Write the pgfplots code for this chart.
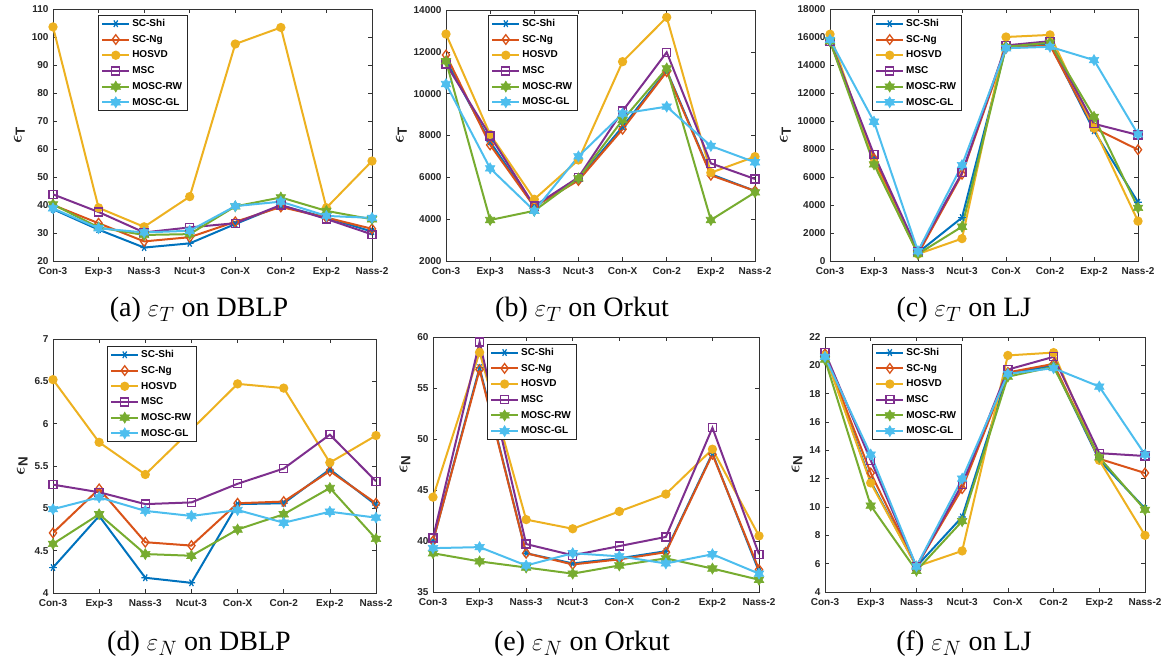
\documentclass[border=0pt]{standalone}
\usepackage{fontspec}
\setmainfont{Liberation Sans}
\newfontfamily\capfont{Liberation Serif}
\usepackage{amsmath}
\usepackage{pgfplots}
\pgfplotsset{compat=1.18}
\definecolor{c1}{rgb}{0,0.447,0.741}
\definecolor{c2}{rgb}{0.85,0.325,0.098}
\definecolor{c3}{rgb}{0.929,0.694,0.125}
\definecolor{c4}{rgb}{0.494,0.184,0.556}
\definecolor{c5}{rgb}{0.466,0.674,0.188}
\definecolor{c6}{rgb}{0.301,0.745,0.933}
\pgfdeclareplotmark{hexagram}{%
\pgfpathmoveto{\pgfpointpolar{90}{\pgfplotmarksize}}%
\pgfpathlineto{\pgfpointpolar{120}{0.577\pgfplotmarksize}}%
\pgfpathlineto{\pgfpointpolar{150}{\pgfplotmarksize}}%
\pgfpathlineto{\pgfpointpolar{180}{0.577\pgfplotmarksize}}%
\pgfpathlineto{\pgfpointpolar{210}{\pgfplotmarksize}}%
\pgfpathlineto{\pgfpointpolar{240}{0.577\pgfplotmarksize}}%
\pgfpathlineto{\pgfpointpolar{270}{\pgfplotmarksize}}%
\pgfpathlineto{\pgfpointpolar{300}{0.577\pgfplotmarksize}}%
\pgfpathlineto{\pgfpointpolar{330}{\pgfplotmarksize}}%
\pgfpathlineto{\pgfpointpolar{0}{0.577\pgfplotmarksize}}%
\pgfpathlineto{\pgfpointpolar{30}{\pgfplotmarksize}}%
\pgfpathlineto{\pgfpointpolar{60}{0.577\pgfplotmarksize}}%
\pgfpathclose\pgfusepathqfillstroke}
\pgfplotsset{
 base/.style={scale only axis, xmin=0, xmax=7, xtick={0,...,7},
  xticklabels={Con-3,Exp-3,Nass-3,Ncut-3,Con-X,Con-2,Exp-2,Nass-2},
  tick align=inside, major tick length=4pt,
  tick style={black!80, line width=0.5pt},
  axis line style={black!80, line width=0.5pt},
  tick label style={font=\fontsize{10}{12}\selectfont\bfseries, text=black!85},
  xticklabel style={yshift=-2.5pt},
  yticklabel style={xshift=-1pt},
  /pgf/number format/assume math mode=true, /pgf/number format/1000 sep={},
  scaled y ticks=false,
  ylabel style={font=\fontsize{19}{20}\selectfont\bfseries, text=black!85},
  legend cell align=left,
  legend style={font=\fontsize{10}{11}\selectfont\bfseries, anchor=north west,
    draw=black!85, line width=0.6pt, inner xsep=3pt, inner ysep=2pt, row sep=3.2pt},
  legend image code/.code={\draw[mark repeat=2,mark phase=2] plot coordinates {(0pt,0pt) (13.5pt,0pt) (27pt,0pt)};},
 },
 shi/.style={color=c1, line width=2pt, mark=asterisk, mark size=3.8pt, mark options={rotate=90, line width=1.2pt}},
 ng/.style={color=c2, line width=2pt, mark=diamond, mark size=4.8pt, mark options={fill=white, line width=1.3pt}},
 hos/.style={color=c3, line width=2pt, mark=*, mark size=3.6pt},
 msc/.style={color=c4, line width=2pt, mark=square, mark size=4pt, mark options={fill=white, line width=1.3pt}},
 rw/.style={color=c5, line width=2pt, mark=hexagram, mark size=5.5pt, mark options={fill=c5, line width=0.6pt}},
 gl/.style={color=c6, line width=2pt, mark=hexagram, mark size=5.5pt, mark options={fill=c6, line width=0.6pt}},
}
\begin{document}
\begin{tikzpicture}
\useasboundingbox (0pt,0pt) rectangle (1164pt,-664pt);
% (a)
\begin{axis}[base, at={(53pt,-9pt)}, anchor=north west, width=319pt, height=252pt,
  ymin=20, ymax=110, ytick={20,30,...,110}, ylabel={$\boldsymbol{\epsilon}_{\textbf{T}}$},
  legend style={at={(0.141,0.976)}}]
\addplot[shi] coordinates {(0,38.5)(1,31.2)(2,24.8)(3,26.3)(4,33.2)(5,39.8)(6,35.5)(7,30.5)};
\addplot[ng] coordinates {(0,40)(1,33.5)(2,27)(3,28.5)(4,34)(5,39.3)(6,35.5)(7,31.5)};
\addplot[hos] coordinates {(0,103.6)(1,39)(2,32.2)(3,43)(4,97.5)(5,103.4)(6,39)(7,55.7)};
\addplot[msc] coordinates {(0,43.8)(1,37.5)(2,30.2)(3,32)(4,33.5)(5,40)(6,35)(7,29.5)};
\addplot[rw] coordinates {(0,40.2)(1,32)(2,29.3)(3,29.6)(4,39.5)(5,42.7)(6,37.9)(7,34.9)};
\addplot[gl] coordinates {(0,38.8)(1,31.7)(2,30.2)(3,30.8)(4,39.6)(5,41.2)(6,36.1)(7,35.4)};
\legend{SC-Shi,SC-Ng,HOSVD,MSC,MOSC-RW,MOSC-GL}
\end{axis}
% (b)
\begin{axis}[base, at={(446pt,-10pt)}, anchor=north west, width=309pt, height=251pt,
  ymin=2000, ymax=14000, ytick={2000,4000,...,14000}, ylabel={$\boldsymbol{\epsilon}_{\textbf{T}}$},
  legend style={at={(0.136,0.98)}}]
\addplot[shi] coordinates {(0,11600)(1,7700)(2,4600)(3,5900)(4,8420)(5,11100)(6,6150)(7,5350)};
\addplot[ng] coordinates {(0,11850)(1,7550)(2,4600)(3,5850)(4,8300)(5,11050)(6,6100)(7,5350)};
\addplot[hos] coordinates {(0,12850)(1,8050)(2,4950)(3,6830)(4,11530)(5,13650)(6,6220)(7,6990)};
\addplot[msc] coordinates {(0,11420)(1,7980)(2,4630)(3,6000)(4,9170)(5,11980)(6,6670)(7,5920)};
\addplot[rw] coordinates {(0,11550)(1,3960)(2,4400)(3,5950)(4,8740)(5,11210)(6,3960)(7,5280)};
\addplot[gl] coordinates {(0,10460)(1,6430)(2,4400)(3,7000)(4,9050)(5,9380)(6,7500)(7,6720)};
\legend{SC-Shi,SC-Ng,HOSVD,MSC,MOSC-RW,MOSC-GL}
\end{axis}
% (c)
\begin{axis}[base, at={(830pt,-9pt)}, anchor=north west, width=308pt, height=252pt,
  ymin=0, ymax=18000, ytick={0,2000,...,18000}, ylabel={$\boldsymbol{\epsilon}_{\textbf{T}}$},
  legend style={at={(0.136,0.976)}}]
\addplot[shi] coordinates {(0,15800)(1,7300)(2,600)(3,3100)(4,15300)(5,15500)(6,9300)(7,4200)};
\addplot[ng] coordinates {(0,15700)(1,7300)(2,500)(3,6200)(4,15200)(5,15400)(6,9500)(7,7950)};
\addplot[hos] coordinates {(0,16200)(1,7000)(2,500)(3,1600)(4,16000)(5,16150)(6,9500)(7,2850)};
\addplot[msc] coordinates {(0,15700)(1,7600)(2,700)(3,6300)(4,15400)(5,15700)(6,9800)(7,9000)};
\addplot[rw] coordinates {(0,15700)(1,6900)(2,500)(3,2450)(4,15300)(5,15600)(6,10300)(7,3800)};
\addplot[gl] coordinates {(0,15800)(1,9950)(2,700)(3,6850)(4,15200)(5,15300)(6,14350)(7,9050)};
\legend{SC-Shi,SC-Ng,HOSVD,MSC,MOSC-RW,MOSC-GL}
\end{axis}
% (d)
\begin{axis}[base, at={(53pt,-339pt)}, anchor=north west, width=323pt, height=254pt,
  ymin=4, ymax=7, ytick={4,4.5,...,7}, ylabel={$\boldsymbol{\epsilon}_{\textbf{N}}$},
  legend style={at={(0.167,0.972)}}]
\addplot[shi] coordinates {(0,4.30)(1,4.91)(2,4.18)(3,4.12)(4,5.05)(5,5.06)(6,5.46)(7,5.04)};
\addplot[ng] coordinates {(0,4.71)(1,5.23)(2,4.60)(3,4.56)(4,5.06)(5,5.08)(6,5.44)(7,5.06)};
\addplot[hos] coordinates {(0,6.52)(1,5.78)(2,5.40)(3,5.93)(4,6.47)(5,6.42)(6,5.54)(7,5.86)};
\addplot[msc] coordinates {(0,5.28)(1,5.19)(2,5.05)(3,5.07)(4,5.29)(5,5.47)(6,5.87)(7,5.32)};
\addplot[rw] coordinates {(0,4.58)(1,4.93)(2,4.46)(3,4.44)(4,4.75)(5,4.93)(6,5.24)(7,4.64)};
\addplot[gl] coordinates {(0,4.99)(1,5.13)(2,4.97)(3,4.91)(4,4.98)(5,4.83)(6,4.96)(7,4.89)};
\legend{SC-Shi,SC-Ng,HOSVD,MSC,MOSC-RW,MOSC-GL}
\end{axis}
% (e)
\begin{axis}[base, at={(433pt,-337pt)}, anchor=north west, width=326pt, height=255pt,
  ymin=35, ymax=60, ytick={35,40,...,60}, ylabel={$\boldsymbol{\epsilon}_{\textbf{N}}$},
  legend style={at={(0.165,0.973)}}]
\addplot[shi] coordinates {(0,40.0)(1,57.0)(2,38.8)(3,37.8)(4,38.3)(5,39.0)(6,48.6)(7,37.0)};
\addplot[ng] coordinates {(0,40.0)(1,56.8)(2,38.8)(3,37.7)(4,38.2)(5,38.9)(6,48.5)(7,37.2)};
\addplot[hos] coordinates {(0,44.3)(1,58.5)(2,42.1)(3,41.2)(4,42.9)(5,44.6)(6,49.0)(7,40.5)};
\addplot[msc] coordinates {(0,40.3)(1,59.5)(2,39.7)(3,38.6)(4,39.5)(5,40.4)(6,51.1)(7,38.7)};
\addplot[rw] coordinates {(0,38.8)(1,38.0)(2,37.4)(3,36.8)(4,37.6)(5,38.3)(6,37.3)(7,36.2)};
\addplot[gl] coordinates {(0,39.3)(1,39.4)(2,37.6)(3,38.8)(4,38.5)(5,37.8)(6,38.7)(7,36.8)};
\legend{SC-Shi,SC-Ng,HOSVD,MSC,MOSC-RW,MOSC-GL}
\end{axis}
% (f)
\begin{axis}[base, at={(825pt,-337pt)}, anchor=north west, width=320pt, height=255pt,
  ymin=4, ymax=22, ytick={4,6,...,22}, ylabel={$\boldsymbol{\epsilon}_{\textbf{N}}$},
  legend style={at={(0.147,0.973)}}]
\addplot[shi] coordinates {(0,20.8)(1,11.8)(2,5.8)(3,9.3)(4,19.4)(5,20.0)(6,13.3)(7,9.9)};
\addplot[ng] coordinates {(0,20.8)(1,12.4)(2,5.8)(3,11.3)(4,19.5)(5,20.1)(6,13.4)(7,12.4)};
\addplot[hos] coordinates {(0,20.7)(1,11.7)(2,5.8)(3,6.9)(4,20.7)(5,20.9)(6,13.3)(7,8.0)};
\addplot[msc] coordinates {(0,20.9)(1,13.3)(2,5.8)(3,11.6)(4,19.7)(5,20.6)(6,13.8)(7,13.6)};
\addplot[rw] coordinates {(0,20.4)(1,10.1)(2,5.5)(3,9.0)(4,19.2)(5,19.9)(6,13.5)(7,9.8)};
\addplot[gl] coordinates {(0,20.6)(1,13.7)(2,5.8)(3,12.0)(4,19.4)(5,19.8)(6,18.5)(7,13.7)};
\legend{SC-Shi,SC-Ng,HOSVD,MSC,MOSC-RW,MOSC-GL}
\end{axis}
\begin{scope}[every node/.style={font=\capfont\fontsize{28}{30}\selectfont, anchor=base, inner sep=0pt}]
\node at (199pt,-316pt) {(a) $\varepsilon_T$ on DBLP};
\node at (582pt,-316pt) {(b) $\varepsilon_T$ on Orkut};
\node at (964pt,-316pt) {(c) $\varepsilon_T$ on LJ};
\node at (199pt,-650pt) {(d) $\varepsilon_N$ on DBLP};
\node at (582pt,-650pt) {(e) $\varepsilon_N$ on Orkut};
\node at (964pt,-650pt) {(f) $\varepsilon_N$ on LJ};
\end{scope}
\end{tikzpicture}
\end{document}
